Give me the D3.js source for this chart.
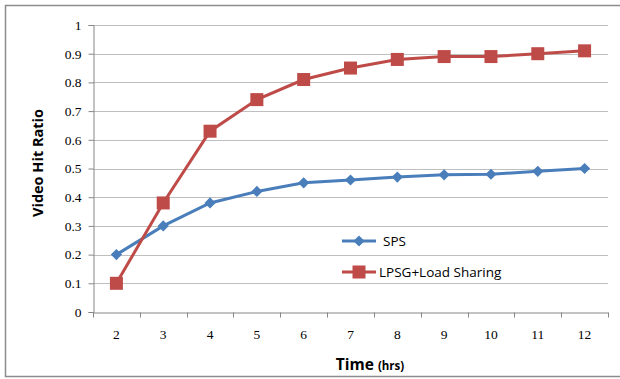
<!DOCTYPE html>
<html><head><meta charset="utf-8">
<script src="https://cdn.jsdelivr.net/npm/d3@7"></script>
<style>body{margin:0;background:#fff}svg{display:block}</style>
</head><body>
<script>
const categories = ["2","3","4","5","6","7","8","9","10","11","12"];
const spsValues = [0.2,0.3,0.38,0.42,0.45,0.46,0.47,0.478,0.48,0.49,0.5];
const lpsgValues = [0.1,0.38,0.63,0.74,0.81,0.85,0.88,0.89,0.89,0.90,0.91];
const yTicks = [0,0.1,0.2,0.3,0.4,0.5,0.6,0.7,0.8,0.9,1];
const seriesNames = ["SPS","LPSG+Load Sharing"];

const W=620,H=379;
const svg=d3.select("body").append("svg").attr("width",W).attr("height",H);
svg.append("rect").attr("x",5.5).attr("y",5.5).attr("width",630).attr("height",371)
  .attr("fill","#fff").attr("stroke","#8c8c8c").attr("stroke-width",1.5);

const L=93,R=608,T=25,B=312;
const x=d3.scaleBand().domain(categories).range([L,R]);
const y=d3.scaleLinear().domain([0,1]).range([B,T]);

// grid
svg.append("g").selectAll("line").data(yTicks.filter(d=>d>0)).join("line")
  .attr("x1",L).attr("x2",R).attr("y1",d=>Math.round(y(d))+0.5).attr("y2",d=>Math.round(y(d))+0.5)
  .attr("stroke","#bfbfbf").attr("stroke-width",1);

const fmt=d=>d===0?"0":(d===1?"1":d3.format(".1f")(d));
const yAxis=svg.append("g").attr("transform",`translate(${L+0.5},0)`)
  .call(d3.axisLeft(y).tickValues(yTicks).tickFormat(fmt).tickSize(5).tickPadding(7));
yAxis.select(".domain").attr("stroke","#868686");
yAxis.selectAll(".tick line").attr("stroke","#868686");
yAxis.selectAll("text").attr("font-family","Liberation Serif, serif").attr("font-size","13.5px").attr("fill","#000");

const xAxis=svg.append("g").attr("transform",`translate(0,${B+0.5})`)
  .call(d3.axisBottom(x).tickSize(0).tickPadding(17));
xAxis.select(".domain").attr("stroke","#868686");
xAxis.selectAll("text").attr("font-family","Liberation Serif, serif").attr("font-size","13.5px").attr("fill","#000");
// category boundary ticks
xAxis.append("g").selectAll("line").data(d3.range(categories.length+1)).join("line")
  .attr("x1",i=>Math.round(L+i*x.step())+0.5).attr("x2",i=>Math.round(L+i*x.step())+0.5)
  .attr("y1",0).attr("y2",5).attr("stroke","#868686");

const cx=d=>x(d)+x.bandwidth()/2;
const line=d3.line().x((d,i)=>cx(categories[i])).y(d=>y(d));
const blue="#4a7ebb", red="#be4b48";

svg.append("path").datum(spsValues).attr("d",line).attr("fill","none").attr("stroke",blue).attr("stroke-width",3);
svg.append("path").datum(lpsgValues).attr("d",line).attr("fill","none").attr("stroke",red).attr("stroke-width",3);

const diamond=d3.symbol().type(d3.symbolDiamond2).size(80);
svg.append("g").selectAll("path").data(spsValues).join("path")
  .attr("d",diamond).attr("transform",(d,i)=>`translate(${cx(categories[i])},${y(d)})`).attr("fill",blue);
svg.append("g").selectAll("rect").data(lpsgValues).join("rect")
  .attr("x",(d,i)=>cx(categories[i])-6.5).attr("y",d=>y(d)-6.5).attr("width",13).attr("height",13).attr("fill",red);

// legend
const lg=svg.append("g");
lg.append("line").attr("x1",342).attr("x2",376).attr("y1",241).attr("y2",241).attr("stroke",blue).attr("stroke-width",3);
lg.append("path").attr("d",diamond).attr("transform","translate(359,241)").attr("fill",blue);
lg.append("text").attr("x",383).attr("y",246).text(seriesNames[0]).attr("font-family","Open Sans, sans-serif").attr("font-size","13.5px").attr("fill","#000");
lg.append("line").attr("x1",342).attr("x2",376).attr("y1",272).attr("y2",272).attr("stroke",red).attr("stroke-width",3);
lg.append("rect").attr("x",352.5).attr("y",265.5).attr("width",13).attr("height",13).attr("fill",red);
lg.append("text").attr("x",379).attr("y",277).text(seriesNames[1]).attr("font-family","Open Sans, sans-serif").attr("font-size","13.5px").attr("fill","#000");

// axis titles
const xt=svg.append("text").attr("x",370).attr("y",370).attr("text-anchor","middle")
  .attr("font-family","Open Sans, sans-serif").attr("font-weight","bold").attr("fill","#000");
xt.append("tspan").attr("font-size","15.5px").text("Time ");
xt.append("tspan").attr("font-size","11.5px").text("(hrs)");
svg.append("text").attr("transform","translate(43,163) rotate(-90)").attr("text-anchor","middle")
  .attr("font-family","Open Sans, sans-serif").attr("font-weight","bold").attr("font-size","14.5px").attr("fill","#000")
  .text("Video Hit Ratio");
</script>
</body></html>
